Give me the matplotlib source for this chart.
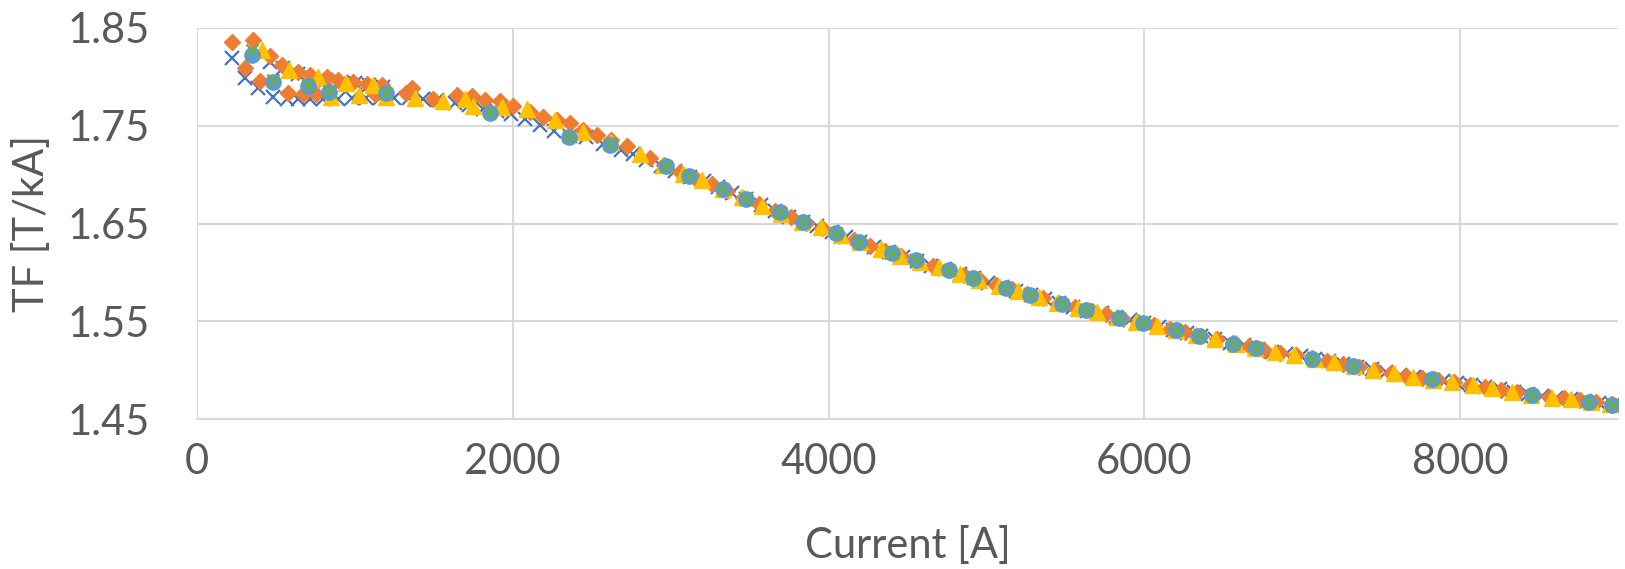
import matplotlib
matplotlib.use("Agg")
import matplotlib.pyplot as plt

# Transfer function TF [T/kA] vs current [A], five measurement runs

# run 1 (blue x)
i_run1 = [220, 304, 388, 483, 568, 641, 715, 797, 892, 980, 1070, 1160, 1250, 1340,
          1430, 1520, 1633, 1720, 1810, 1900, 1992, 2080, 2171, 2260, 2360, 2466, 2570,
          2688, 2760, 2846,
          460, 545, 640, 730, 820, 910, 1000, 1090, 1180,
          2940, 3030, 3120, 3210, 3300, 3390, 3480, 3570, 3660, 3750, 3840, 3930, 4020,
          4110, 4200, 4290, 4380, 4470, 4560, 4650, 4740, 4830, 4920, 5010, 5100, 5190,
          5280, 5370, 5460, 5550, 5640, 5730, 5820, 5910, 6000, 6090, 6180, 6270, 6360,
          6450, 6540, 6630, 6720, 6810, 6900, 6990, 7080, 7170, 7260, 7350, 7440, 7530,
          7620, 7710, 7800, 7890, 7980, 8070, 8160, 8250, 8340, 8430, 8520, 8610, 8700,
          8790, 8880, 8970]
tf_run1 = [1.819, 1.799, 1.789, 1.779, 1.777, 1.777, 1.777, 1.777, 1.777, 1.778, 1.778,
           1.778, 1.778, 1.778, 1.777, 1.776, 1.773, 1.771, 1.767, 1.765, 1.762, 1.757,
           1.751, 1.745, 1.740, 1.738, 1.731, 1.725, 1.721, 1.715,
           1.815, 1.809, 1.803, 1.799, 1.797, 1.795, 1.794, 1.792, 1.790,
           1.709, 1.704, 1.698, 1.693, 1.687, 1.681, 1.675, 1.669, 1.663, 1.657, 1.652,
           1.647, 1.641, 1.636, 1.631, 1.626, 1.621, 1.616, 1.612, 1.607, 1.603, 1.598,
           1.594, 1.589, 1.585, 1.581, 1.577, 1.573, 1.569, 1.565, 1.561, 1.558, 1.554,
           1.551, 1.548, 1.544, 1.541, 1.538, 1.535, 1.532, 1.528, 1.526, 1.522, 1.519,
           1.517, 1.514, 1.511, 1.509, 1.506, 1.503, 1.501, 1.498, 1.495, 1.493, 1.491,
           1.489, 1.487, 1.485, 1.483, 1.481, 1.478, 1.476, 1.474, 1.472, 1.470, 1.468,
           1.466, 1.464]

# run 2 (orange diamonds)
i_run2 = [220, 356, 304, 399, 462, 536, 576, 639, 671, 715, 753, 821, 892, 987, 1074,
          1127, 1169, 1327, 1359, 1494, 1644, 1740, 1823, 1918, 2000, 2108, 2190, 2278,
          2361, 2443, 2531, 2620, 2722, 2867,
          2960, 3060, 3160, 3260, 3360, 3460, 3560, 3660, 3760, 3860, 3960, 4060, 4160,
          4260, 4360, 4460, 4560, 4660, 4760, 4860, 4960, 5060, 5160, 5260, 5360, 5460,
          5560, 5660, 5760, 5860, 5960, 6060, 6160, 6260, 6360, 6460, 6560, 6660, 6760,
          6860, 6960, 7060, 7160, 7260, 7360, 7460, 7560, 7660, 7760, 7860, 7960, 8060,
          8160, 8260, 8360, 8460, 8560, 8660, 8760, 8860, 8960]
tf_run2 = [1.836, 1.838, 1.809, 1.796, 1.821, 1.812, 1.783, 1.805, 1.782, 1.802, 1.782,
           1.800, 1.797, 1.795, 1.793, 1.782, 1.792, 1.783, 1.789, 1.777, 1.781, 1.780,
           1.776, 1.775, 1.770, 1.764, 1.759, 1.756, 1.753, 1.746, 1.741, 1.735, 1.729,
           1.717,
           1.710, 1.703, 1.696, 1.690, 1.683, 1.676, 1.670, 1.663, 1.657, 1.651, 1.645,
           1.639, 1.633, 1.627, 1.622, 1.617, 1.612, 1.607, 1.602, 1.597, 1.592, 1.587,
           1.583, 1.578, 1.574, 1.569, 1.565, 1.561, 1.557, 1.553, 1.549, 1.546, 1.542,
           1.539, 1.535, 1.532, 1.528, 1.525, 1.521, 1.518, 1.515, 1.512, 1.509, 1.506,
           1.503, 1.500, 1.497, 1.494, 1.492, 1.490, 1.488, 1.485, 1.483, 1.480, 1.478,
           1.475, 1.473, 1.471, 1.469, 1.467, 1.465]

# run 3 (yellow triangles)
i_run3 = [409, 585, 768, 947, 1116, 852, 1025, 1200, 1380, 1557, 1696, 1747, 1930, 2089,
          2266, 2443, 2620, 2804,
          2950, 3080, 3200, 3330, 3450, 3580, 3700, 3830, 3950, 4080, 4200, 4330, 4450,
          4580, 4700, 4830, 4950, 5080, 5200, 5330, 5450, 5580, 5700, 5830, 5950, 6080,
          6200, 6330, 6450, 6580, 6700, 6830, 6950, 7080, 7200, 7330, 7450, 7580, 7700,
          7830, 7950, 8080, 8200, 8330, 8450, 8580, 8700, 8830, 8950]
tf_run3 = [1.828, 1.807, 1.800, 1.794, 1.792, 1.779, 1.781, 1.779, 1.778, 1.775, 1.777,
           1.770, 1.769, 1.767, 1.756, 1.744, 1.733, 1.721,
           1.710, 1.701, 1.694, 1.685, 1.677, 1.668, 1.660, 1.652, 1.646, 1.638, 1.631,
           1.624, 1.617, 1.611, 1.605, 1.598, 1.592, 1.586, 1.581, 1.575, 1.569, 1.564,
           1.559, 1.554, 1.549, 1.545, 1.541, 1.536, 1.532, 1.527, 1.523, 1.519, 1.515,
           1.511, 1.508, 1.504, 1.500, 1.497, 1.493, 1.490, 1.488, 1.485, 1.482, 1.478,
           1.475, 1.472, 1.470, 1.467, 1.465]

# run 4 (light blue circles) and run 5 (green x) share the same set points
i_run4 = [346, 479, 705, 837, 1196, 1854, 2357, 2614, 2973, 3116, 3331, 3479, 3690, 3838,
          4049, 4196, 4405, 4557, 4766, 4918, 5127, 5278, 5481, 5630, 5842, 5989, 6200,
          6348, 6559, 6707, 7065, 7319, 7825, 8458, 8816, 8964]
tf_run4 = [1.822, 1.795, 1.791, 1.785, 1.783, 1.763, 1.739, 1.730, 1.709, 1.699, 1.685,
           1.675, 1.662, 1.652, 1.640, 1.631, 1.620, 1.613, 1.602, 1.594, 1.584, 1.577,
           1.568, 1.562, 1.553, 1.548, 1.541, 1.535, 1.527, 1.523, 1.511, 1.504, 1.491,
           1.475, 1.467, 1.464]
i_run5 = i_run4
tf_run5 = [1.828, 1.797, 1.792, 1.786, 1.784, 1.764, 1.740, 1.731, 1.709, 1.699, 1.685,
           1.675, 1.662, 1.652, 1.640, 1.631, 1.620, 1.613, 1.602, 1.594, 1.584, 1.577,
           1.568, 1.562, 1.553, 1.548, 1.541, 1.535, 1.527, 1.523, 1.511, 1.504, 1.491,
           1.475, 1.467, 1.464]

x_ticks = [0, 2000, 4000, 6000, 8000]
y_ticks = [1.45, 1.55, 1.65, 1.75, 1.85]

text_col = '#595959'
grid_col = '#D9D9D9'
plt.rcParams['font.family'] = ['Lato', 'DejaVu Sans']

fig = plt.figure(figsize=(16.25, 5.69), dpi=100)
ax = fig.add_axes([0.1212, 0.2636, 0.8745, 0.6872])

ax.plot(i_run1, tf_run1, ls='none', marker='x', ms=9.5, mew=1.6, color='#4472C4', zorder=3)
ax.plot(i_run2, tf_run2, ls='none', marker='D', ms=8.5, color='#ED7D31', zorder=4)
ax.plot(i_run3, tf_run3, ls='none', marker='^', ms=11.5, color='#FFC000', zorder=5)
ax.plot(i_run4, tf_run4, ls='none', marker='o', ms=11, color='#5B9BD5', zorder=6)
ax.plot(i_run5, tf_run5, ls='none', marker='x', ms=8.5, mew=1.8, color='#70AD47', zorder=7)

ax.set_xlim(0, 9000)
ax.set_ylim(1.45, 1.85)
ax.set_xticks(x_ticks)
ax.set_yticks(y_ticks)
ax.set_yticklabels([f'{v:.2f}' for v in y_ticks])

for s in ax.spines.values():
    s.set_visible(False)
ax.spines['bottom'].set_visible(True)
ax.spines['bottom'].set_color(grid_col)
ax.spines['bottom'].set_linewidth(1.5)
ax.grid(True, color=grid_col, linewidth=1.5, zorder=0)
ax.set_axisbelow(True)

ax.tick_params(length=0, labelsize=30, colors=text_col)
ax.tick_params(axis='x', pad=17)
ax.tick_params(axis='y', pad=34)

ax.set_xlabel('Current [A]', fontsize=30, color=text_col, labelpad=33)
ax.set_ylabel('TF [T/kA]', fontsize=30, color=text_col, labelpad=12)

fig.savefig('out.png', dpi=100)
